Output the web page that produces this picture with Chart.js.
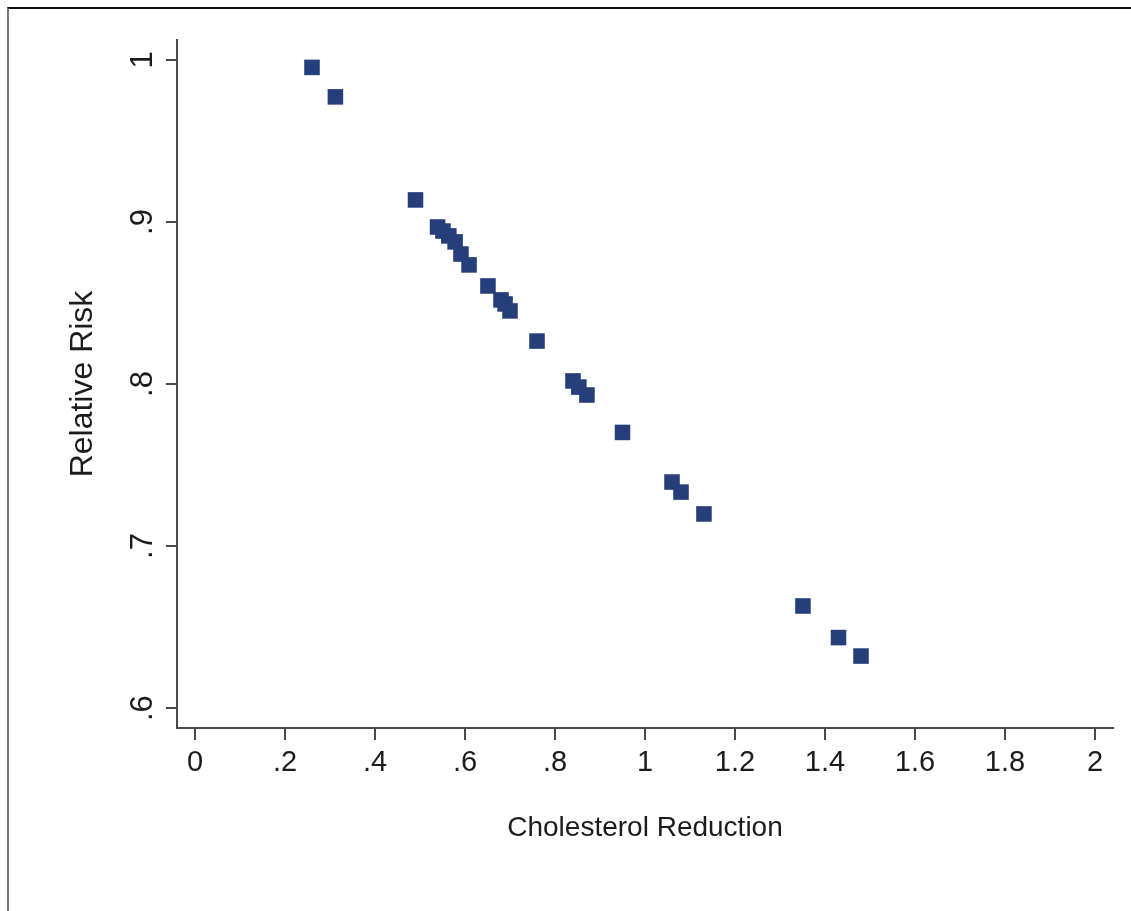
<!DOCTYPE html>
<html>
<head>
<meta charset="utf-8">
<script src="https://cdn.jsdelivr.net/npm/chart.js@4.4.1/dist/chart.umd.min.js"></script>
<style>
    body { margin: 0; background: #fff; overflow: hidden; }
    #frame { position: absolute; left: 7px; top: 7px; width: 1200px; height: 1000px;
             border-top: 2px solid #111; border-left: 2px solid #777; }
    #myChart { position: absolute; left: 0; top: 0; }
</style>
</head>
<body>
<div id="frame"></div>
<canvas id="myChart" width="1131" height="911"></canvas>
<script>
// cholesterol reduction vs relative risk
const cholReduction = [0.26, 0.312, 0.49, 0.539, 0.551, 0.564, 0.578, 0.591, 0.609, 0.651, 0.68, 0.689,
    0.70, 0.76, 0.84, 0.853, 0.871, 0.95, 1.06, 1.08, 1.131, 1.351, 1.43, 1.48];
const relRisk = [0.9954, 0.9772, 0.9136, 0.8969, 0.8944, 0.8914, 0.8877, 0.8802, 0.8735, 0.8605, 0.8519, 0.8494,
    0.8451, 0.8265, 0.8019, 0.7981, 0.7932, 0.7701, 0.7395, 0.7333, 0.7198, 0.6630, 0.6435, 0.6321];
const xTicks = [0, 0.2, 0.4, 0.6, 0.8, 1, 1.2, 1.4, 1.6, 1.8, 2];
const yTicks = [0.6, 0.7, 0.8, 0.9, 1];

const axisColor = '#4a4a4a';
const textColor = '#1c1c1c';
const fontFamily = 'Liberation Sans, Arial, sans-serif';

// stata style labels: .2 instead of 0.2
function fmt(v) {
    let s = String(Math.round(v * 10) / 10);
    if (s.startsWith('0.')) s = s.slice(1);
    return s;
}

const points = cholReduction.map((x, i) => ({x: x, y: relRisk[i]}));

const ctx = document.getElementById('myChart').getContext('2d');
const chart = new Chart(ctx, {
    type: 'scatter',
    data: {
        datasets: [{
            data: points,
            pointStyle: 'rect',
            pointRadius: 11,
            pointHoverRadius: 11,
            backgroundColor: '#263f7a',
            borderWidth: 0
        }]
    },
    options: {
        responsive: false,
        animation: false,
        events: [],
        layout: {padding: {left: 0, top: 40, right: 18, bottom: 0}},
        plugins: {legend: {display: false}, tooltip: {enabled: false}},
        scales: {
            x: {
                type: 'linear',
                min: -0.04,
                max: 2.04,
                afterBuildTicks: (scale) => { scale.ticks = xTicks.map(v => ({value: v})); },
                afterFit: (scale) => { scale.height = 183; },
                border: {display: true, color: axisColor, width: 2},
                grid: {display: true, drawOnChartArea: false, drawTicks: true, tickLength: 12, tickColor: axisColor, lineWidth: 2},
                ticks: {
                    callback: (v) => fmt(v),
                    color: textColor,
                    font: {family: fontFamily, size: 29},
                    padding: 6,
                    maxRotation: 0,
                    autoSkip: false
                },
                title: {
                    display: true,
                    text: 'Cholesterol Reduction',
                    color: textColor,
                    font: {family: fontFamily, size: 28},
                    padding: {top: 0, bottom: 66}
                }
            },
            y: {
                type: 'linear',
                min: 0.5877,
                max: 1.0123,
                afterBuildTicks: (scale) => { scale.ticks = yTicks.map(v => ({value: v})); },
                afterFit: (scale) => { scale.width = 177; },
                border: {display: true, color: axisColor, width: 2},
                grid: {display: true, drawOnChartArea: false, drawTicks: true, tickLength: 11, tickColor: axisColor, lineWidth: 2},
                ticks: {
                    callback: (v) => fmt(v),
                    color: textColor,
                    font: {family: fontFamily, size: 31},
                    padding: 10,
                    minRotation: 90,
                    maxRotation: 90,
                    crossAlign: 'center',
                    autoSkip: false
                },
                title: {
                    display: true,
                    text: 'Relative Risk',
                    color: textColor,
                    font: {family: fontFamily, size: 32},
                    padding: {top: 64, bottom: 0}
                }
            }
        }
    }
});
</script>
</body>
</html>
